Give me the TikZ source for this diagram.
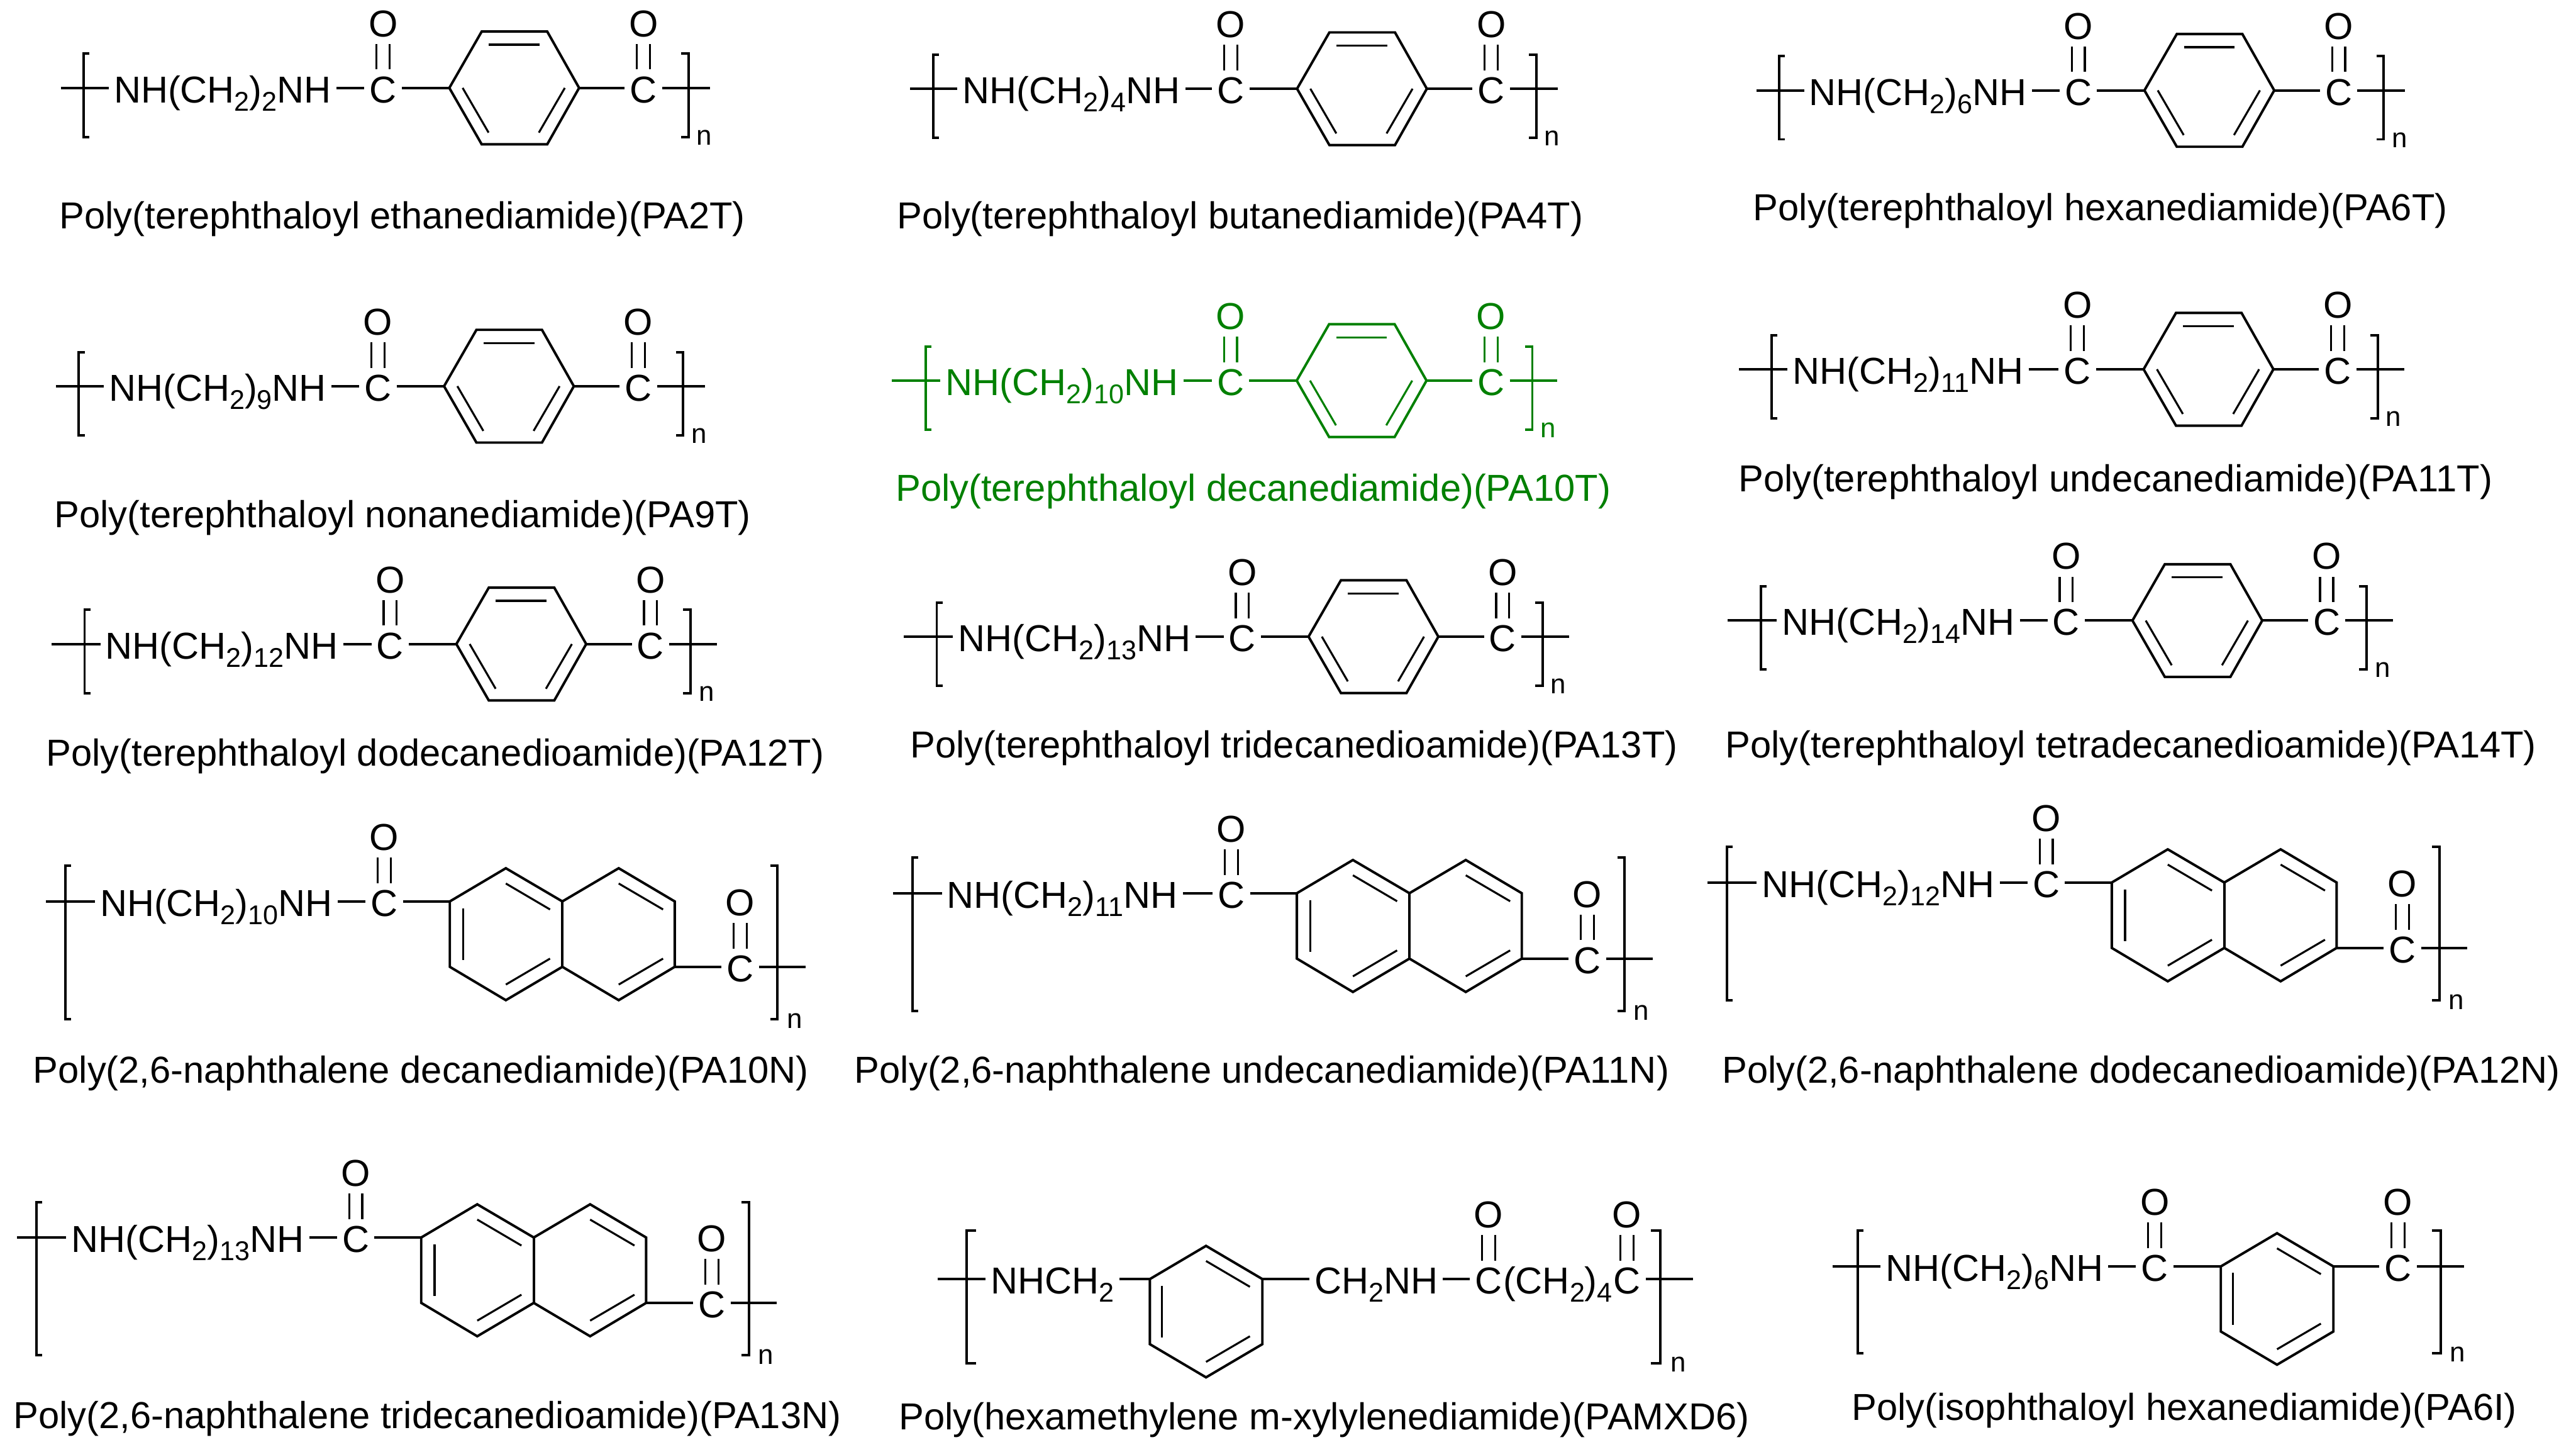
\documentclass[tikz,border=0pt]{standalone}
\usepackage{fontspec}
\setmainfont{Liberation Sans}
\definecolor{pagreen}{RGB}{0,128,0}
\newcommand\sbs[1]{\raisebox{-5pt}{\fontsize{16.5pt}{18pt}\selectfont #1}}
\tikzset{
  chem/.style={inner xsep=3pt,inner ysep=0pt,text height=18pt,text depth=0pt,font=\fontsize{22.8pt}{25pt}\selectfont},
  captxt/.style={inner sep=0pt,anchor=base west,yshift=0.5pt,font=\fontsize{22.85pt}{25pt}\selectfont},
  subn/.style={inner sep=0pt,anchor=base west,font=\fontsize{16.8pt}{18pt}\selectfont},
  bond/.style={line width=1.5pt},
  thinb/.style={line width=1.2pt},
  brack/.style={line width=1.5pt,miter limit=10},
}
\newcommand\dbl[2]{%
  \draw[thinb] ([shift={(-4pt,11.2pt)}]#1.center) -- ([shift={(-4pt,-13.5pt)}]#2.center);
  \draw[thinb] ([shift={(4pt,11.2pt)}]#1.center) -- ([shift={(4pt,-13.5pt)}]#2.center);
}
% left end: #1 label, #2 x of C, #3 bracket x, #4 top, #5 bottom, #6 label west
\newcommand\lhead[6]{%
  \coordinate (s) at (0,0);
  \node[chem,anchor=west] (t) at (#6,0) {#1};
  \node[chem] (c1) at (#2,0) {C};
  \node[chem] (o1) at (#2,-40.2) {O};
  \draw[bond] (s) -- (t);
  \draw[bond] (t) -- (c1);
  \dbl{c1}{o1}
  \draw[brack] (#3+3.5,#4) -- (#3,#4) -- (#3,#5) -- (#3+3.5,#5);
}
% right end, origin at the last C: #1 bracket x, #2 top, #3 bottom, #4 end x, #5 n x, #6 n base
\newcommand\rtail[6]{%
  \coordinate (e) at (#4,0);
  \draw[bond] (c2) -- (e);
  \draw[brack] (#1-4.4,#2) -- (#1,#2) -- (#1,#3) -- (#1-4.4,#3);
  \node[subn] (nn) at (#5,#6) {n};
}
% para ring, origin at the left C
\newcommand\tring{%
  \coordinate (r1) at (40.3,0);
  \coordinate (r2) at (60,-34.3);
  \coordinate (r3) at (99.9,-34.3);
  \coordinate (r4) at (119.3,0);
  \coordinate (r5) at (99.9,34.3);
  \coordinate (r6) at (60,34.3);
  \draw[bond] (c1) -- (r1);
  \draw[bond,line join=miter] (r1) -- (r2) -- (r3) -- (r4) -- (r5) -- (r6) -- cycle;
  \coordinate (a1) at (64.3,-26.3); \coordinate (a2) at (95.2,-26.3);
  \coordinate (b1) at (48.4,0);   \coordinate (b2) at (64.2,27.2);
  \coordinate (d1) at (110.6,0);  \coordinate (d2) at (94.8,27.2);
  \draw[thinb] (a1) -- (a2);
  \draw[thinb] (b1) -- (b2);
  \draw[thinb] (d1) -- (d2);
  \node[chem] (c2) at (158.5,0) {C};
  \node[chem] (o2) at (158.5,-40.2) {O};
  \dbl{c2}{o2}
  \draw[bond] (r4) -- (c2);
}
% PA..T: #1 id, #2 x0, #3 y0, #4 label, #5 cx, #6 style, #7 left bracket, #8 right bracket (from last C), #9 label west
\newcommand\paT[9]{%
  \begin{scope}[shift={(#2,#3)},name prefix=#1-,#6]
    \lhead{#4}{#5}{#7}{-20.8}{29.8}{#9}
    \begin{scope}[shift={(#5,0)}]
      \tring
      \rtail{158.5+#8}{-20.8}{29.8}{199}{158.5+#8+4.8}{34.6}
    \end{scope}
  \end{scope}
}
% PA..N: origin at left bond start
\newcommand\paN[4]{%
  \begin{scope}[shift={(#2,#3)},name prefix=#1-]
    \lhead{#4}{206}{11.8}{-21.6}{71.5}{29.8}
    \begin{scope}[shift={(206,0)}]
      \coordinate (r1) at (39.9,0);
      \coordinate (r2) at (74,-20.2);
      \coordinate (r3) at (108.4,0);
      \coordinate (r4) at (142.7,-20.2);
      \coordinate (r5) at (176.8,0);
      \coordinate (r6) at (176.8,39.8);
      \coordinate (r7) at (142.7,60.1);
      \coordinate (r8) at (108.4,39.8);
      \coordinate (r9) at (74,60.1);
      \coordinate (r10) at (39.9,39.8);
      \draw[bond] (c1) -- (r1);
      \draw[bond] (r1) -- (r2) -- (r3) -- (r4) -- (r5) -- (r6) -- (r7) -- (r8) -- (r9) -- (r10) -- cycle;
      \draw[bond] (r3) -- (r8);
      \coordinate (i1) at (48,4.3);  \coordinate (i2) at (48,35.5);
      \coordinate (i3) at (74,-10.9); \coordinate (i4) at (100.9,4.9);
      \coordinate (i5) at (74,50.6); \coordinate (i6) at (100.9,34.8);
      \coordinate (i7) at (142.7,-10.9); \coordinate (i8) at (169.7,4.9);
      \coordinate (i9) at (142.7,50.6); \coordinate (i10) at (169.7,34.8);
      \draw[thinb] (i1) -- (i2);
      \draw[thinb] (i3) -- (i4);
      \draw[thinb] (i5) -- (i6);
      \draw[thinb] (i7) -- (i8);
      \draw[thinb] (i9) -- (i10);
      \node[chem] (c2) at (216.7,39.8) {C};
      \node[chem] (o2) at (216.7,-0.4) {O};
      \dbl{c2}{o2}
      \draw[bond] (r6) -- (c2);
      \coordinate (e) at (256.4,39.8);
      \draw[bond] (c2) -- (e);
      \draw[brack] (234.9,-21.6) -- (239.3,-21.6) -- (239.3,71.5) -- (234.9,71.5);
      \node[subn] (nn) at (244.8,77.2) {n};
    \end{scope}
  \end{scope}
}
% meta ring, origin at its left vertex
\newcommand\mring{%
  \coordinate (r1) at (0,0);
  \coordinate (r2) at (34.2,-20.2);
  \coordinate (r3) at (68.5,0);
  \coordinate (r4) at (68.5,39.6);
  \coordinate (r5) at (34.2,59.8);
  \coordinate (r6) at (0,39.6);
  \draw[bond] (r1) -- (r2) -- (r3) -- (r4) -- (r5) -- (r6) -- cycle;
  \coordinate (i1) at (7.5,4);  \coordinate (i2) at (7.5,35.5);
  \coordinate (i3) at (34.2,-11); \coordinate (i4) at (60.9,4.7);
  \coordinate (i5) at (34.2,50.4); \coordinate (i6) at (60.9,34.8);
  \draw[thinb] (i1) -- (i2);
  \draw[thinb] (i3) -- (i4);
  \draw[thinb] (i5) -- (i6);
}
\begin{document}
\begin{tikzpicture}[x=1pt,y=-1pt]
\useasboundingbox (0,0) rectangle (1568,883.4);
\fill[white] (0,0) rectangle (1568,883.4);

\paT{a}{37}{53.5}{NH(CH\sbs{2})\sbs{2}NH}{196.2}{}{14}{27.4}{29.1}
\paT{b}{554}{54}{NH(CH\sbs{2})\sbs{4}NH}{195.2}{}{14}{27.4}{28.8}
\paT{c}{1069}{55}{NH(CH\sbs{2})\sbs{6}NH}{196}{}{14}{27.4}{29.1}
\paT{d}{34}{235}{NH(CH\sbs{2})\sbs{9}NH}{196}{}{14}{27.4}{29.1}
\paT{e}{542.8}{231.6}{NH(CH\sbs{2})\sbs{10}NH}{206.2}{color=pagreen}{20.7}{25.2}{29.6}
\paT{f}{1058.5}{224.7}{NH(CH\sbs{2})\sbs{11}NH}{206}{}{20}{24.3}{29.6}
\paT{g}{31.5}{391.9}{NH(CH\sbs{2})\sbs{12}NH}{206}{}{20}{24.3}{29.6}
\paT{h}{550.2}{387.4}{NH(CH\sbs{2})\sbs{13}NH}{206}{}{20}{24.3}{29.8}
\paT{i}{1051.7}{377.6}{NH(CH\sbs{2})\sbs{14}NH}{206}{}{20}{24.3}{29.8}

\paN{j}{27.9}{548.5}{NH(CH\sbs{2})\sbs{10}NH}
\paN{k}{543.5}{543.5}{NH(CH\sbs{2})\sbs{11}NH}
\paN{l}{1039.5}{537}{NH(CH\sbs{2})\sbs{12}NH}
\paN{m}{10.5}{753}{NH(CH\sbs{2})\sbs{13}NH}

% PAMXD6
\begin{scope}[name prefix=x-]
  \coordinate (s) at (570.6,778.3);
  \node[chem,anchor=west] (t1) at (599.9,778.3) {NHCH\sbs{2}};
  \begin{scope}[shift={(699.9,778.3)}]\mring\end{scope}
  \draw[bond] (s) -- (t1);
  \draw[bond] (t1) -- (r1);
  \node[chem,anchor=west] (t2) at (796.9,778.3) {CH\sbs{2}NH};
  \draw[bond] (r3) -- (t2);
  \node[chem] (c1) at (906,778.3) {C};
  \node[chem,inner xsep=0pt] (m) at (948.2,778.3) {(CH\sbs{2})\sbs{4}};
  \node[chem] (c2) at (990.3,778.3) {C};
  \node[chem] (o1) at (906,738.1) {O};
  \node[chem] (o2) at (990.3,738.1) {O};
  \dbl{c1}{o1}
  \dbl{c2}{o2}
  \draw[bond] (t2) -- (c1);
  \coordinate (e) at (1030.5,778.3);
  \draw[bond] (c2) -- (e);
  \draw[brack] (594,748.6) -- (588.3,748.6) -- (588.3,829.6) -- (594,829.6);
  \draw[brack] (1004.8,748.6) -- (1010.6,748.6) -- (1010.6,829.6) -- (1004.8,829.6);
  \node[subn] (nn) at (1016.7,834.6) {n};
\end{scope}

% PA6I
\begin{scope}[shift={(1115.4,770.6)},name prefix=y-]
  \lhead{NH(CH\sbs{2})\sbs{6}NH}{196.2}{15.4}{-22}{52.8}{29.2}
  \begin{scope}[shift={(236.4,0)}]\mring\end{scope}
  \draw[bond] (c1) -- (r1);
  \node[chem] (c2) at (344.3,0) {C};
  \node[chem] (o2) at (344.3,-40.2) {O};
  \dbl{c2}{o2}
  \draw[bond] (r3) -- (c2);
  \coordinate (e) at (384.5,0);
  \draw[bond] (c2) -- (e);
  \draw[brack] (364.8,-22) -- (370.2,-22) -- (370.2,52.8) -- (364.8,52.8);
  \node[subn] (nn) at (375.8,58.1) {n};
\end{scope}

% captions
\node[captxt] (n1) at (36,139.5) {Poly(terephthaloyl ethanediamide)(PA2T)};
\node[captxt] (n2) at (546,139.5) {Poly(terephthaloyl butanediamide)(PA4T)};
\node[captxt] (n3) at (1067,134.5) {Poly(terephthaloyl hexanediamide)(PA6T)};
\node[captxt] (n4) at (33,321.5) {Poly(terephthaloyl nonanediamide)(PA9T)};
\node[captxt,color=pagreen] (n5) at (545,305.5) {Poly(terephthaloyl decanediamide)(PA10T)};
\node[captxt] (n6) at (1058,299.5) {Poly(terephthaloyl undecanediamide)(PA11T)};
\node[captxt] (n7) at (28,466.5) {Poly(terephthaloyl dodecanedioamide)(PA12T)};
\node[captxt] (n8) at (554,461.5) {Poly(terephthaloyl tridecanedioamide)(PA13T)};
\node[captxt] (n9) at (1050,461.5) {Poly(terephthaloyl tetradecanedioamide)(PA14T)};
\node[captxt] (n10) at (20,659.5) {Poly(2,6-naphthalene decanediamide)(PA10N)};
\node[captxt] (n11) at (520,659.5) {Poly(2,6-naphthalene undecanediamide)(PA11N)};
\node[captxt] (n12) at (1048,659.5) {Poly(2,6-naphthalene dodecanedioamide)(PA12N)};
\node[captxt] (n13) at (8,869.5) {Poly(2,6-naphthalene tridecanedioamide)(PA13N)};
\node[captxt] (n14) at (547,870.5) {Poly(hexamethylene m-xylylenediamide)(PAMXD6)};
\node[captxt] (n15) at (1127,864.5) {Poly(isophthaloyl hexanediamide)(PA6I)};
\end{tikzpicture}
\end{document}
